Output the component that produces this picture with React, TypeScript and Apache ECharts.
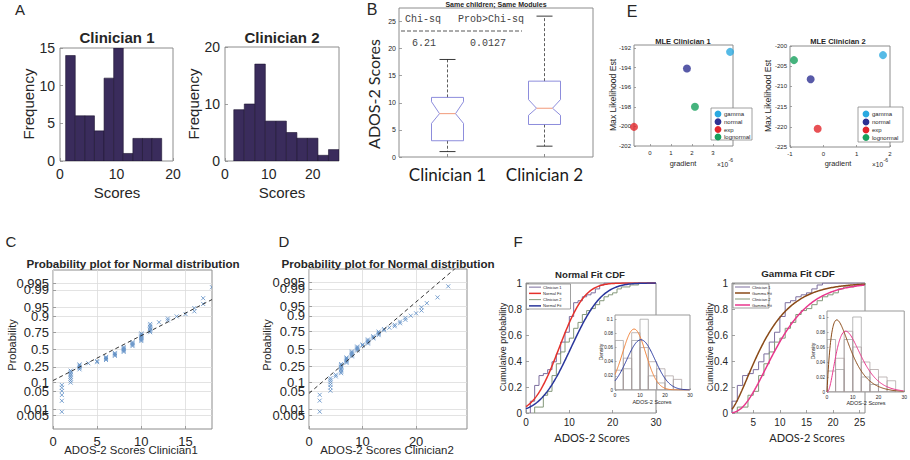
import React, { useEffect, useRef } from "react";
import * as echarts from "echarts";

// ---------------- DATA ----------------
// A: frequency histograms
const histEdges1 = [1, 2.7, 4.4, 6.1, 7.8, 9.5, 11.2, 12.9, 14.6, 16.3, 18];
const histCounts1 = [14, 6, 6, 4, 11, 15, 1, 3, 3, 3];
const histEdges2 = [2, 4.4, 6.8, 9.2, 11.6, 14, 16.4, 18.8, 21.2, 23.6, 26];
const histCounts2 = [9, 10, 17, 7, 7, 5, 4, 4, 1, 2];

// B: notched box plot
const boxCategories = ["Clinician 1", "Clinician 2"];
const boxMin = [1, 2];
const boxQ1 = [3, 6];
const boxNotchLow = [6.2, 7.7];
const boxMedian = [8, 9];
const boxNotchHigh = [10.2, 10.6];
const boxQ3 = [11, 14];
const boxMax = [18, 26];
const chiSqHeader = ["Chi-sq", "Prob>Chi-sq"];
const chiSqValues = ["6.21", "0.0127"];

// C / D: scores (value, count) used for probability plots and ECDFs
const scoreValues1 = [1, 2, 3, 4, 5, 6, 7, 8, 9, 10, 11, 12, 13, 14, 15, 16, 17, 18];
const scoreCounts1 = [6, 8, 5, 1, 2, 4, 4, 6, 5, 8, 7, 1, 2, 1, 1, 2, 2, 1];
const scoreValues2 = [2, 4, 5, 6, 7, 8, 9, 10, 11, 12, 13, 14, 15, 16, 17, 18, 19, 20, 21, 22, 24, 26];
const scoreCounts2 = [3, 6, 2, 8, 6, 6, 5, 2, 5, 3, 4, 2, 1, 2, 2, 2, 1, 1, 2, 1, 1, 1];
const probTicksA = [0.01, 0.1, 0.5, 0.9, 0.99];
const probTicksB = [0.005, 0.05, 0.25, 0.75, 0.95, 0.995];
const refLineMu = [6.9, 9.7];
const refLineSigma = [5.7, 5.64];

// E: MLE vs gradient
const mleNames = ["gamma", "normal", "exp", "lognormal"];
const mle1Gradient = [3.81, 1.76, -0.76, 2.14];
const mle1Est = [-192.4, -194.1, -200.05, -198.0];
const mle2Gradient = [1.79, -0.38, -0.17, -0.88];
const mle2Est = [-202.25, -208.25, -220.5, -203.5];

// F: fitted distributions
const normalFitMu = [7.64, 10.36];
const normalFitSigma = [4.63, 5.62];
const gammaFitShape = [1.99, 3.33];
const gammaFitScale = [3.84, 3.11];
const densityBinEdges = [0, 3.33, 6.67, 10, 13.33, 16.67, 20, 23.33, 26.67];
const densityClin1 = [0.07, 0.03, 0.07, 0.1, 0.02, 0.01, 0, 0];
const densityClin2 = [0.028, 0.045, 0.081, 0.06, 0.04, 0.03, 0.02, 0.015];

// ---------------- MATH ----------------
function normInv(p: number): number {
  const a = [-39.69683028665376, 220.9460984245205, -275.9285104469687, 138.357751867269, -30.66479806614716, 2.506628277459239];
  const b = [-54.47609879822406, 161.5858368580409, -155.6989798598866, 66.80131188771972, -13.28068155288572];
  const c = [-0.007784894002430293, -0.3223964580411365, -2.400758277161838, -2.549732539343734, 4.374664141464968, 2.938163982698783];
  const d = [0.007784695709041462, 0.3224671290700398, 2.445134137142996, 3.754408661907416];
  const pl = 0.02425;
  if (p < pl) {
    const q = Math.sqrt(-2 * Math.log(p));
    return (((((c[0] * q + c[1]) * q + c[2]) * q + c[3]) * q + c[4]) * q + c[5]) / ((((d[0] * q + d[1]) * q + d[2]) * q + d[3]) * q + 1);
  }
  if (p <= 1 - pl) {
    const q = p - 0.5, r = q * q;
    return ((((((a[0] * r + a[1]) * r + a[2]) * r + a[3]) * r + a[4]) * r + a[5]) * q) / (((((b[0] * r + b[1]) * r + b[2]) * r + b[3]) * r + b[4]) * r + 1);
  }
  const q = Math.sqrt(-2 * Math.log(1 - p));
  return -(((((c[0] * q + c[1]) * q + c[2]) * q + c[3]) * q + c[4]) * q + c[5]) / ((((d[0] * q + d[1]) * q + d[2]) * q + d[3]) * q + 1);
}
function erf(x: number): number {
  const s = x < 0 ? -1 : 1;
  const ax = Math.abs(x);
  const t = 1 / (1 + 0.3275911 * ax);
  const y = 1 - ((((1.061405429 * t - 1.453152027) * t + 1.421413741) * t - 0.284496736) * t + 0.254829592) * t * Math.exp(-ax * ax);
  return s * y;
}
const normCdf = (x: number, mu: number, s: number) => 0.5 * (1 + erf((x - mu) / (s * Math.SQRT2)));
const normPdf = (x: number, mu: number, s: number) => Math.exp(-0.5 * ((x - mu) / s) ** 2) / (s * Math.sqrt(2 * Math.PI));
function lnGamma(z: number): number {
  const cof = [0.99999999999980993, 676.5203681218851, -1259.1392167224028, 771.32342877765313, -176.61502916214059, 12.507343278686905, -0.13857109526572012, 9.9843695780195716e-6, 1.5056327351493116e-7];
  if (z < 0.5) return Math.log(Math.PI / Math.sin(Math.PI * z)) - lnGamma(1 - z);
  z -= 1;
  let x = cof[0];
  for (let i = 1; i < 9; i++) x += cof[i] / (z + i);
  const t = z + 7.5;
  return 0.5 * Math.log(2 * Math.PI) + (z + 0.5) * Math.log(t) - t + Math.log(x);
}
function gammaCdf(x: number, k: number, th: number): number {
  if (x <= 0) return 0;
  const xs = x / th;
  let term = 1 / k, sum = 1 / k;
  for (let n = 1; n < 400; n++) {
    term *= xs / (k + n);
    sum += term;
    if (term < sum * 1e-12) break;
  }
  return Math.min(1, sum * Math.exp(-xs + k * Math.log(xs) - lnGamma(k)));
}
function gammaPdf(x: number, k: number, th: number): number {
  if (x <= 0) return 0;
  return Math.exp((k - 1) * Math.log(x) - x / th - lnGamma(k) - k * Math.log(th));
}
function sample(x0: number, x1: number, f: (x: number) => number) {
  const out: number[][] = [];
  const n = 240;
  for (let i = 0; i <= n; i++) {
    const x = x0 + ((x1 - x0) * i) / n;
    out.push([x, f(x)]);
  }
  return out;
}
function probPoints(values: number[], counts: number[]) {
  const n = counts.reduce((s, v) => s + v, 0);
  const pts: number[][] = [];
  let i = 0;
  values.forEach((v, j) => {
    for (let c = 0; c < counts[j]; c++) {
      i++;
      pts.push([v, normInv((i - 0.5) / n)]);
    }
  });
  return pts;
}
function ecdf(values: number[], counts: number[], xEnd: number) {
  const n = counts.reduce((s, v) => s + v, 0);
  const pts: number[][] = [[values[0], 0]];
  let cum = 0;
  values.forEach((v, j) => {
    cum += counts[j];
    pts.push([v, cum / n]);
  });
  pts.push([xEnd, 1]);
  return pts;
}

// ---------------- STYLE HELPERS ----------------
const SANS = "'Liberation Sans', Arial, Helvetica, sans-serif";
const CALI = "Lato, 'Open Sans', sans-serif";
const MONO = "'Liberation Mono', 'Courier New', monospace";
const TXT = "#262626";
const FRAME = "#8c8c8c";

function vAxis(o: any) {
  const ax: any = {
    type: "value",
    gridIndex: o.grid,
    min: o.min,
    max: o.max,
    axisLine: { show: false, onZero: false },
    axisTick: { show: true, inside: true, length: o.tickLen ?? 3, lineStyle: { color: FRAME, width: 0.8 } },
    axisLabel: {
      show: true, fontSize: o.font, fontFamily: o.family ?? SANS, color: TXT, margin: o.margin ?? 4,
      hideOverlap: false, showMinLabel: true, showMaxLabel: true,
    },
    splitLine: { show: !!o.split, lineStyle: { color: "#dcdcdc", width: 0.8 } },
  };
  if (o.position) ax.position = o.position;
  if (o.interval !== undefined) ax.interval = o.interval;
  if (o.ticks) {
    ax.axisLabel.customValues = o.ticks;
    ax.axisTick.customValues = o.ticks;
  }
  if (o.fmt) ax.axisLabel.formatter = o.fmt;
  if (o.z !== undefined) ax.z = o.z;
  return ax;
}
function grid(left: number, top: number, width: number, height: number, extra: any = {}) {
  return { left, top, width, height, show: true, borderColor: FRAME, borderWidth: 1, backgroundColor: "transparent", containLabel: false, ...extra };
}
function gText(x: number, y: number, text: string, size: number, o: any = {}) {
  return {
    type: "text",
    x,
    y,
    rotation: o.rot ?? 0,
    z: 20,
    style: {
      text,
      fontSize: size,
      fontFamily: o.family ?? SANS,
      fontWeight: o.bold ? "bold" : "normal",
      fill: o.color ?? TXT,
      align: o.align ?? "center",
      verticalAlign: o.va ?? "middle",
    },
  };
}
function histSeries(ax: number, edges: number[], heights: number[], style: any, z = 2) {
  return {
    type: "custom",
    xAxisIndex: ax,
    yAxisIndex: ax,
    z,
    clip: true,
    encode: { x: [0, 1], y: 2 },
    data: heights.map((h, i) => [edges[i], edges[i + 1], h]),
    renderItem: (_p: any, api: any) => {
      const p0 = api.coord([api.value(0), api.value(2)]);
      const p1 = api.coord([api.value(1), 0]);
      return { type: "rect", shape: { x: p0[0], y: p0[1], width: p1[0] - p0[0], height: p1[1] - p0[1] }, style };
    },
  };
}
function crossSeries(ax: number, pts: number[][]) {
  return {
    type: "custom",
    xAxisIndex: ax,
    yAxisIndex: ax,
    clip: true,
    encode: { x: 0, y: 1 },
    data: pts,
    renderItem: (_p: any, api: any) => {
      const c = api.coord([api.value(0), api.value(1)]);
      const r = 2;
      const st = { stroke: "#5a8bc4", lineWidth: 0.8 };
      return {
        type: "group",
        children: [
          { type: "line", shape: { x1: c[0] - r, y1: c[1] - r, x2: c[0] + r, y2: c[1] + r }, style: st },
          { type: "line", shape: { x1: c[0] - r, y1: c[1] + r, x2: c[0] + r, y2: c[1] - r }, style: st },
        ],
      };
    },
  };
}
function lineSeries(ax: number, data: number[][], color: string, width: number, extra: any = {}) {
  return { type: "line", xAxisIndex: ax, yAxisIndex: ax, data, showSymbol: false, symbol: "none", clip: true, lineStyle: { color, width }, ...extra };
}

const probAllTicks = [...probTicksA, ...probTicksB];
const probZA = probTicksA.map((p) => normInv(p));
const probZB = probTicksB.map((p) => normInv(p));
const probFmt = (v: number) => {
  const i = probAllTicks.findIndex((p) => Math.abs(normInv(p) - v) < 1e-6);
  return i >= 0 ? String(probAllTicks[i]) : "";
};
const mleColors = ["#2aa9e0", "#2e3192", "#e2262b", "#17a05d"];

function buildOption(): any {
  const grids = [
    grid(60, 48, 113, 113), // 0 A1
    grid(225, 47, 114, 114), // 1 A2
    grid(399, 8, 194, 149), // 2 B
    grid(634, 45, 99, 101), // 3 E1
    grid(790, 46, 100, 101), // 4 E2
    grid(53, 270, 159, 159), // 5 C
    grid(309, 269, 158, 160), // 6 D
    grid(526, 283, 130, 130), // 7 F1
    grid(615, 315, 75, 75, { z: 5, backgroundColor: "#fff", borderColor: "#999" }), // 8 F1 inset
    grid(732, 283, 133, 130), // 9 F2
    grid(827, 311, 78, 81, { z: 5, backgroundColor: "#fff", borderColor: "#999" }), // 10 F2 inset
  ];

  const xAxes: any[] = [
    vAxis({ grid: 0, min: 0, max: 20, interval: 10, font: 14, margin: 6 }),
    vAxis({ grid: 1, min: 0, max: 26, ticks: [0, 10, 20], font: 14, margin: 6 }),
    {
      type: "category",
      gridIndex: 2,
      data: boxCategories,
      boundaryGap: true,
      axisLine: { show: false },
      axisTick: { show: true, inside: true, alignWithLabel: true, length: 3, lineStyle: { color: FRAME } },
      axisLabel: { interval: 0, fontFamily: CALI, fontSize: 17, color: "#1a1a1a", margin: 9 },
    },
    vAxis({ grid: 3, min: -0.76, max: 3.95, ticks: [0, 1, 2, 3, 4], font: 6, margin: 4, tickLen: 2 }),
    vAxis({ grid: 4, min: -1, max: 2, interval: 1, font: 6, margin: 4, tickLen: 2 }),
    vAxis({ grid: 5, min: 0, max: 18, ticks: [0, 5, 10, 15], font: 13, margin: 6, split: true }),
    vAxis({ grid: 6, min: 0, max: 29.5, ticks: [0, 10, 20], font: 13, margin: 6, split: true }),
    vAxis({ grid: 7, min: 0, max: 30, interval: 10, font: 10, margin: 4 }),
    vAxis({ grid: 8, min: 0, max: 30, interval: 10, font: 5, margin: 2, tickLen: 1.5, z: 6 }),
    vAxis({ grid: 9, min: 1, max: 26, ticks: [5, 10, 15, 20, 25], font: 10, margin: 4 }),
    vAxis({ grid: 10, min: 0, max: 30, interval: 10, font: 5, margin: 2, tickLen: 1.5, z: 6 }),
  ];
  const yAxes: any[] = [
    vAxis({ grid: 0, min: 0, max: 15, interval: 5, font: 14, margin: 5 }),
    vAxis({ grid: 1, min: 0, max: 20, interval: 10, font: 14, margin: 5 }),
    vAxis({ grid: 2, min: 0, max: 27.5, ticks: [0, 5, 10, 15, 20, 25], font: 7, margin: 3 }),
    vAxis({ grid: 3, min: -202, max: -191.7, ticks: [-202, -200, -198, -196, -194, -192], font: 6, margin: 3, tickLen: 2 }),
    vAxis({ grid: 4, min: -225, max: -200, interval: 5, font: 6, margin: 3, tickLen: 2 }),
    vAxis({ grid: 5, min: -3.1, max: 3.1, ticks: probZA, font: 13, margin: 4, split: true, fmt: probFmt, position: "left" }),
    vAxis({ grid: 6, min: -3.1, max: 3.1, ticks: probZA, font: 13, margin: 4, split: true, fmt: probFmt, position: "left" }),
    vAxis({ grid: 7, min: 0, max: 1, interval: 0.2, font: 10, margin: 4 }),
    vAxis({ grid: 8, min: 0, max: 0.106, ticks: [0, 0.02, 0.04, 0.06, 0.08, 0.1], font: 4.5, margin: 2, tickLen: 1.5, z: 6 }),
    vAxis({ grid: 9, min: 0, max: 1, interval: 0.2, font: 10, margin: 4 }),
    vAxis({ grid: 10, min: 0, max: 0.108, ticks: [0, 0.02, 0.04, 0.06, 0.08, 0.1], font: 4.5, margin: 2, tickLen: 1.5, z: 6 }),
    // second label sets for the probability axes (interleaved ticks)
    vAxis({ grid: 5, min: -3.1, max: 3.1, ticks: probZB, font: 13, margin: 4, split: true, fmt: probFmt, position: "left" }),
    vAxis({ grid: 6, min: -3.1, max: 3.1, ticks: probZB, font: 13, margin: 4, split: true, fmt: probFmt, position: "left" }),
  ];

  const histStyle = { fill: "#3a2c5c", stroke: "#1c1430", lineWidth: 0.6 };
  const series: any[] = [];
  series.push(histSeries(0, histEdges1, histCounts1, histStyle));
  series.push(histSeries(1, histEdges2, histCounts2, histStyle));

  // B: notched boxes
  series.push({
    type: "custom",
    xAxisIndex: 2,
    yAxisIndex: 2,
    encode: { x: 0, y: [1, 2, 3, 4, 5, 6, 7] },
    data: boxCategories.map((_c, i) => [i, boxMin[i], boxQ1[i], boxNotchLow[i], boxMedian[i], boxNotchHigh[i], boxQ3[i], boxMax[i]]),
    renderItem: (_p: any, api: any) => {
      const cat = api.value(0);
      const y = (k: number) => api.coord([cat, api.value(k)])[1];
      const cx = api.coord([cat, 0])[0];
      const [yMin, yQ1, yNL, yMed, yNH, yQ3, yMax] = [1, 2, 3, 4, 5, 6, 7].map(y);
      const w = 16, nw = 8, cap = 8;
      const dash = { stroke: "#333", lineWidth: 0.8, lineDash: [3, 2] };
      const solid = { stroke: "#222", lineWidth: 0.9 };
      return {
        type: "group",
        children: [
          { type: "line", shape: { x1: cx, y1: yQ3, x2: cx, y2: yMax }, style: dash },
          { type: "line", shape: { x1: cx, y1: yQ1, x2: cx, y2: yMin }, style: dash },
          { type: "line", shape: { x1: cx - cap, y1: yMax, x2: cx + cap, y2: yMax }, style: solid },
          { type: "line", shape: { x1: cx - cap, y1: yMin, x2: cx + cap, y2: yMin }, style: solid },
          {
            type: "polygon",
            shape: {
              points: [
                [cx - w, yQ3], [cx + w, yQ3], [cx + w, yNH], [cx + nw, yMed], [cx + w, yNL], [cx + w, yQ1],
                [cx - w, yQ1], [cx - w, yNL], [cx - nw, yMed], [cx - w, yNH],
              ],
            },
            style: { fill: "none", stroke: "#8080d8", lineWidth: 0.9 },
          },
          { type: "line", shape: { x1: cx - nw, y1: yMed, x2: cx + nw, y2: yMed }, style: { stroke: "#f29a7a", lineWidth: 1 } },
        ],
      };
    },
  });

  // E: scatter points
  mleNames.forEach((name, i) => {
    series.push({ type: "scatter", name, xAxisIndex: 3, yAxisIndex: 3, symbolSize: 8, clip: false, itemStyle: { color: mleColors[i] }, data: [[mle1Gradient[i], mle1Est[i]]] });
    series.push({ type: "scatter", name, xAxisIndex: 4, yAxisIndex: 4, symbolSize: 8, clip: false, itemStyle: { color: mleColors[i] }, data: [[mle2Gradient[i], mle2Est[i]]] });
  });

  // C / D: probability plots
  const refLine = (ax: number, k: number, xmax: number) =>
    lineSeries(ax, [[0, (0 - refLineMu[k]) / refLineSigma[k]], [xmax, (xmax - refLineMu[k]) / refLineSigma[k]]], "#333", 1, {
      lineStyle: { color: "#333", width: 1, type: [4, 3] },
    });
  series.push(crossSeries(5, probPoints(scoreValues1, scoreCounts1)));
  series.push(refLine(5, 0, 18));
  series.push(crossSeries(6, probPoints(scoreValues2, scoreCounts2)));
  series.push(refLine(6, 1, 29.5));

  // F1: normal fit CDF
  const ecdf1Color = "#7c6e9e";
  const ecdf2Color = "#84987a";
  series.push(lineSeries(7, ecdf(scoreValues1, scoreCounts1, 30), ecdf1Color, 1, { step: "end" }));
  series.push(lineSeries(7, ecdf(scoreValues2, scoreCounts2, 30), ecdf2Color, 1, { step: "end" }));
  series.push(lineSeries(7, sample(0, 30, (x) => normCdf(x, normalFitMu[0], normalFitSigma[0])), "#e5312b", 1.5));
  series.push(lineSeries(7, sample(0, 30, (x) => normCdf(x, normalFitMu[1], normalFitSigma[1])), "#28359b", 1.5));
  // F1 inset
  const barStyle1 = { fill: "none", stroke: "#9c9c9c", lineWidth: 0.7 };
  const barStyle2 = { fill: "none", stroke: "#a89c9c", lineWidth: 0.7 };
  series.push(histSeries(8, densityBinEdges, densityClin1, barStyle1, 7));
  series.push(histSeries(8, densityBinEdges, densityClin2, barStyle2, 7));
  series.push(lineSeries(8, sample(0, 30, (x) => normPdf(x, normalFitMu[0], normalFitSigma[0])), "#f0823a", 1, { z: 8 }));
  series.push(lineSeries(8, sample(0, 30, (x) => normPdf(x, normalFitMu[1], normalFitSigma[1])), "#2a3a9e", 1, { z: 8 }));

  // F2: gamma fit CDF
  series.push(lineSeries(9, ecdf(scoreValues1, scoreCounts1, 26), ecdf1Color, 1, { step: "end" }));
  series.push(lineSeries(9, ecdf(scoreValues2, scoreCounts2, 26), ecdf2Color, 1, { step: "end" }));
  series.push(lineSeries(9, sample(1, 26, (x) => gammaCdf(x, gammaFitShape[0], gammaFitScale[0])), "#8a4a18", 1.5));
  series.push(lineSeries(9, sample(1, 26, (x) => gammaCdf(x, gammaFitShape[1], gammaFitScale[1])), "#e8368c", 1.5));
  // F2 inset
  series.push(histSeries(10, densityBinEdges, densityClin1, barStyle1, 7));
  series.push(histSeries(10, densityBinEdges, densityClin2, barStyle2, 7));
  series.push(lineSeries(10, sample(0, 30, (x) => gammaPdf(x, gammaFitShape[0], gammaFitScale[0])), "#8a4a18", 1, { z: 8 }));
  series.push(lineSeries(10, sample(0, 30, (x) => gammaPdf(x, gammaFitShape[1], gammaFitScale[1])), "#e8368c", 1, { z: 8 }));

  // ---------- graphic texts / legends ----------
  const R = Math.PI / 2;
  const g: any[] = [
    // panel letters
    gText(20, 9, "A", 15), gText(372, 9, "B", 16), gText(632, 11, "E", 16),
    gText(11, 241, "C", 15), gText(284, 241, "D", 15), gText(518, 241, "F", 15),
    // A
    gText(117, 37, "Clinician 1", 15, { bold: true }), gText(282, 37, "Clinician 2", 15, { bold: true }),
    gText(117, 192, "Scores", 15), gText(282, 192, "Scores", 15),
    gText(28, 104, "Frequency", 15, { rot: R }), gText(193, 104, "Frequency", 15, { rot: R }),
    // B
    gText(496, 4, "Same children; Same Modules", 7, { bold: true }),
    gText(373, 94, "ADOS-2 Scores", 16, { rot: R, family: CALI }),
    gText(405, 19, chiSqHeader[0], 10, { family: MONO, align: "left", color: "#444" }),
    gText(458, 19, chiSqHeader[1], 10, { family: MONO, align: "left", color: "#444" }),
    gText(412, 43, chiSqValues[0], 10, { family: MONO, align: "left", color: "#444" }),
    gText(470, 43, chiSqValues[1], 10, { family: MONO, align: "left", color: "#444" }),
    { type: "line", z: 20, shape: { x1: 401, y1: 31, x2: 522, y2: 31 }, style: { stroke: "#444", lineWidth: 0.9, lineDash: [4, 2] } },
    // E
    gText(683, 41, "MLE Clinician 1", 7.5, { bold: true }), gText(838, 41, "MLE Clinician 2", 7.5, { bold: true }),
    gText(683, 163, "gradient", 7.4), gText(838, 163, "gradient", 7.4),
    gText(613, 95, "Max Likelihood Est", 8.6, { rot: R }), gText(768, 96, "Max Likelihood Est", 8.6, { rot: R }),
    gText(717, 164, "×10", 6.5, { align: "left" }), gText(728.5, 160, "-6", 5, { align: "left" }),
    gText(872, 164, "×10", 6.5, { align: "left" }), gText(883.5, 160, "-6", 5, { align: "left" }),
    // C / D
    gText(133, 263, "Probability plot for Normal distribution", 11.6, { bold: true }),
    gText(388, 263, "Probability plot for Normal distribution", 11.6, { bold: true }),
    gText(131, 450, "ADOS-2 Scores Clinician1", 11.4), gText(387, 450, "ADOS-2 Scores Clinician2", 11.4),
    gText(12, 345, "Probability", 11, { rot: R }), gText(267, 345, "Probability", 11, { rot: R }),
    // F
    gText(590, 274, "Normal Fit CDF", 9.6, { bold: true }), gText(798, 273, "Gamma Fit CDF", 9.8, { bold: true }),
    gText(592, 437, "ADOS-2 Scores", 11, { family: CALI }), gText(807, 437, "ADOS-2 Scores", 11, { family: CALI }),
    gText(503, 347, "Cumulative probability", 9, { rot: R }), gText(710, 347, "Cumulative probability", 9, { rot: R }),
    gText(601, 352, "Density", 5, { rot: R }), gText(652, 402, "ADOS-2 Scores", 5.5),
    gText(813, 351, "Density", 5, { rot: R }), gText(866, 403, "ADOS-2 Scores", 5.5),
  ];
  // E legends
  const eLegend = (bx: number, by: number, bw: number, bh: number, cx: number, rows: number[]) => {
    g.push({ type: "rect", z: 19, shape: { x: bx, y: by, width: bw, height: bh }, style: { fill: "#fff", stroke: "#888", lineWidth: 0.8 } });
    mleNames.forEach((n, i) => {
      g.push({ type: "circle", z: 20, shape: { cx, cy: rows[i], r: 3.4 }, style: { fill: mleColors[i] } });
      g.push(gText(cx + 6, rows[i], n, 6, { align: "left" }));
    });
  };
  eLegend(711, 108, 41, 32, 718, [114, 121.8, 129.5, 137]);
  eLegend(858, 107, 45, 35, 866, [114, 122, 130, 137.5]);
  // F legends
  const fLegend = (bx: number, by: number, bw: number, bh: number, lx0: number, lx1: number, labels: string[], colors: string[], widths: number[]) => {
    g.push({ type: "rect", z: 19, shape: { x: bx, y: by, width: bw, height: bh }, style: { fill: "#fff", stroke: "#777", lineWidth: 0.7 } });
    const step = bh / 4;
    labels.forEach((t, i) => {
      const yy = by + step * (i + 0.5);
      g.push({ type: "line", z: 20, shape: { x1: lx0, y1: yy, x2: lx1, y2: yy }, style: { stroke: colors[i], lineWidth: widths[i] } });
      g.push(gText(lx1 + 2, yy, t, 4, { align: "left" }));
    });
  };
  fLegend(526.5, 284, 44, 25, 529, 541, ["Clinician 1", "Normal Fit", "Clinician 2", "Normal Fit"], [ecdf1Color, "#e5312b", ecdf2Color, "#28359b"], [1, 1.5, 1, 1.5]);
  fLegend(733, 284, 36, 24, 735, 750, ["Clinician 1", "Gamma Fit", "Clinician 2", "Gamma Fit"], [ecdf1Color, "#8a4a18", ecdf2Color, "#e8368c"], [1, 1.5, 1, 1.5]);

  return {
    animation: false,
    backgroundColor: "#fff",
    grid: grids,
    xAxis: xAxes,
    yAxis: yAxes,
    series,
    graphic: { elements: g },
  };
}

export default function App() {
  const ref = useRef<HTMLDivElement>(null);
  useEffect(() => {
    if (!ref.current) return;
    const chart = echarts.init(ref.current, undefined, { renderer: "svg" });
    chart.setOption(buildOption());
    return () => chart.dispose();
  }, []);
  return <div ref={ref} style={{ position: "absolute", left: 0, top: 0, width: 910, height: 460, background: "#fff" }} />;
}
